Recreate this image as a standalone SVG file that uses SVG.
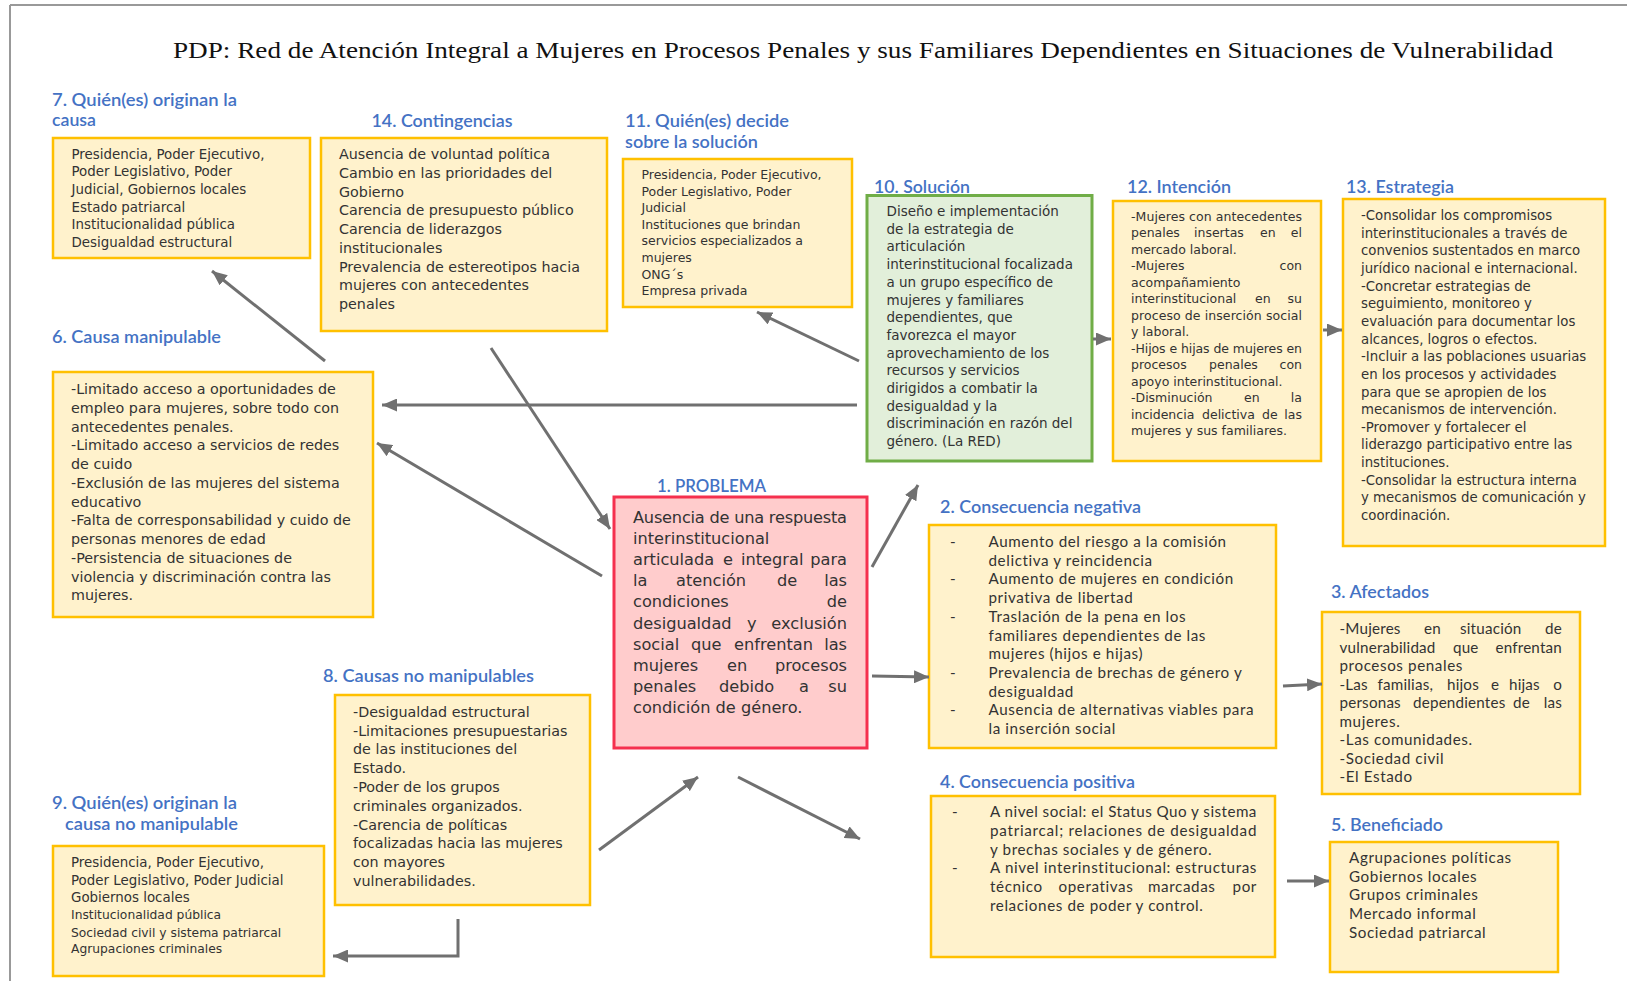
<svg xmlns="http://www.w3.org/2000/svg" width="1627" height="981" viewBox="0 0 1627 981">
<defs>
<marker id="ah" markerUnits="userSpaceOnUse" markerWidth="16" markerHeight="13" refX="15" refY="6.5" orient="auto">
<path d="M0,0 L15,6.5 L0,13 z" fill="#707070"/>
</marker>
<style>
.box{fill:#FFF2CC;stroke:#FFC000;stroke-width:2.5}
.green{fill:#E2EFDA;stroke:#70AD47;stroke-width:3}
.red{fill:#FFCCCC;stroke:#F5304E;stroke-width:3}
.lbl{font-family:Lato,'Open Sans',sans-serif;font-weight:600;font-size:17px;fill:#4472C4}
.t{font-family:'DejaVu Sans',Verdana,sans-serif;fill:#333333}
.c{font-family:Lato,'Open Sans',sans-serif;fill:#333333;font-size:15.2px;letter-spacing:0.6px}
.j{letter-spacing:0.2px}
.conn line,.conn polyline{stroke:#707070;stroke-width:3;fill:none;marker-end:url(#ah)}
.e{text-anchor:end}
</style>
</defs>
<rect x="0" y="0" width="1627" height="981" fill="#FFFFFF"/>
<g id="frame" stroke="#999999" stroke-width="2" fill="none">
<line x1="10" y1="5" x2="1627" y2="5"/>
<line x1="10" y1="5" x2="10" y2="981"/>
</g>
<text id="title" x="173" y="58" font-family="'Liberation Serif',serif" font-size="23.5" fill="#111111" textLength="1380" lengthAdjust="spacingAndGlyphs">PDP: Red de Atención Integral a Mujeres en Procesos Penales y sus Familiares Dependientes en Situaciones de Vulnerabilidad</text>

<g id="n7">
<text class="lbl" x="52" y="106" textLength="185" lengthAdjust="spacingAndGlyphs">7. Quién(es) originan la</text>
<text class="lbl" x="52" y="126" textLength="44" lengthAdjust="spacingAndGlyphs">causa</text>
<rect class="box" x="53" y="138" width="257" height="120"/>
<g class="t" font-size="13.4">
<text x="71.5" y="158.5">Presidencia, Poder Ejecutivo,</text>
<text x="71.5" y="176.2">Poder Legislativo, Poder</text>
<text x="71.5" y="193.9">Judicial, Gobiernos locales</text>
<text x="71.5" y="211.6">Estado patriarcal</text>
<text x="71.5" y="229.3">Institucionalidad pública</text>
<text x="71.5" y="247">Desigualdad estructural</text>
</g>
</g>

<g id="n14">
<text class="lbl" x="371.5" y="127" textLength="141" lengthAdjust="spacingAndGlyphs">14. Contingencias</text>
<rect class="box" x="321" y="138" width="286" height="193"/>
<g class="t" font-size="14.3">
<text x="339" y="159">Ausencia de voluntad política</text>
<text x="339" y="177.75">Cambio en las prioridades del</text>
<text x="339" y="196.5">Gobierno</text>
<text x="339" y="215.25">Carencia de presupuesto público</text>
<text x="339" y="234">Carencia de liderazgos</text>
<text x="339" y="252.75">institucionales</text>
<text x="339" y="271.5">Prevalencia de estereotipos hacia</text>
<text x="339" y="290.25">mujeres con antecedentes</text>
<text x="339" y="309">penales</text>
</g>
</g>

<g id="n11">
<text class="lbl" x="625" y="127" textLength="164" lengthAdjust="spacingAndGlyphs">11. Quién(es) decide</text>
<text class="lbl" x="625" y="148" textLength="133" lengthAdjust="spacingAndGlyphs">sobre la solución</text>
<rect class="box" x="623" y="159" width="229" height="148"/>
<g class="t" font-size="12.5">
<text x="641.5" y="179">Presidencia, Poder Ejecutivo,</text>
<text x="641.5" y="195.6">Poder Legislativo, Poder</text>
<text x="641.5" y="212.2">Judicial</text>
<text x="641.5" y="228.8">Instituciones que brindan</text>
<text x="641.5" y="245.4">servicios especializados a</text>
<text x="641.5" y="262">mujeres</text>
<text x="641.5" y="278.6">ONG´s</text>
<text x="641.5" y="295.2">Empresa privada</text>
</g>
</g>

<g id="n10">
<text class="lbl" x="874" y="193" textLength="96" lengthAdjust="spacingAndGlyphs">10. Solución</text>
<rect class="green" x="867" y="195.5" width="225" height="265.5"/>
<g class="t" font-size="13.5">
<text x="886.5" y="216">Diseño e implementación</text>
<text x="886.5" y="233.7">de la estrategia de</text>
<text x="886.5" y="251.4">articulación</text>
<text x="886.5" y="269.1">interinstitucional focalizada</text>
<text x="886.5" y="286.8">a un grupo específico de</text>
<text x="886.5" y="304.5">mujeres y familiares</text>
<text x="886.5" y="322.2">dependientes, que</text>
<text x="886.5" y="339.9">favorezca el mayor</text>
<text x="886.5" y="357.6">aprovechamiento de los</text>
<text x="886.5" y="375.3">recursos y servicios</text>
<text x="886.5" y="393">dirigidos a combatir la</text>
<text x="886.5" y="410.7">desigualdad y la</text>
<text x="886.5" y="428.4">discriminación en razón del</text>
<text x="886.5" y="446.1">género. (La RED)</text>
</g>
</g>

<g id="n12">
<text class="lbl" x="1127" y="193" textLength="104" lengthAdjust="spacingAndGlyphs">12. Intención</text>
<rect class="box" x="1113" y="201" width="208" height="260"/>
<g class="t" font-size="12.5">
<text x="1131" y="220.7" textLength="171" lengthAdjust="spacing">-Mujeres con antecedentes</text>
<text x="1131" y="237.2">penales</text><text x="1194" y="237.2">insertas</text><text x="1260" y="237.2">en</text><text class="e" x="1302" y="237.2">el</text>
<text x="1131" y="253.7">mercado laboral.</text>
<text x="1131" y="270.2">-Mujeres</text><text class="e" x="1302" y="270.2">con</text>
<text x="1131" y="286.7">acompañamiento</text>
<text x="1131" y="303.2">interinstitucional</text><text x="1255" y="303.2">en</text><text class="e" x="1302" y="303.2">su</text>
<text x="1131" y="319.7" textLength="171" lengthAdjust="spacing">proceso de inserción social</text>
<text x="1131" y="336.2">y laboral.</text>
<text x="1131" y="352.7" textLength="171" lengthAdjust="spacing">-Hijos e hijas de mujeres en</text>
<text x="1131" y="369.2">procesos</text><text x="1209" y="369.2">penales</text><text class="e" x="1302" y="369.2">con</text>
<text x="1131" y="385.7">apoyo interinstitucional.</text>
<text x="1131" y="402.2">-Disminución</text><text x="1244" y="402.2">en</text><text class="e" x="1302" y="402.2">la</text>
<text x="1131" y="418.7">incidencia</text><text x="1202" y="418.7">delictiva</text><text x="1262" y="418.7">de</text><text class="e" x="1302" y="418.7">las</text>
<text x="1131" y="435.2">mujeres y sus familiares.</text>
</g>
</g>

<g id="n13">
<text class="lbl" x="1346" y="193" textLength="108" lengthAdjust="spacingAndGlyphs">13. Estrategia</text>
<rect class="box" x="1343" y="199" width="262" height="347"/>
<g class="t" font-size="13.3">
<text x="1361" y="220">-Consolidar los compromisos</text>
<text x="1361" y="237.65">interinstitucionales a través de</text>
<text x="1361" y="255.3">convenios sustentados en marco</text>
<text x="1361" y="272.95">jurídico nacional e internacional.</text>
<text x="1361" y="290.6">-Concretar estrategias de</text>
<text x="1361" y="308.25">seguimiento, monitoreo y</text>
<text x="1361" y="325.9">evaluación para documentar los</text>
<text x="1361" y="343.55">alcances, logros o efectos.</text>
<text x="1361" y="361.2">-Incluir a las poblaciones usuarias</text>
<text x="1361" y="378.85">en los procesos y actividades</text>
<text x="1361" y="396.5">para que se apropien de los</text>
<text x="1361" y="414.15">mecanismos de intervención.</text>
<text x="1361" y="431.8">-Promover y fortalecer el</text>
<text x="1361" y="449.45">liderazgo participativo entre las</text>
<text x="1361" y="467.1">instituciones.</text>
<text x="1361" y="484.75">-Consolidar la estructura interna</text>
<text x="1361" y="502.4">y mecanismos de comunicación y</text>
<text x="1361" y="520.05">coordinación.</text>
</g>
</g>

<g id="n6">
<text class="lbl" x="52" y="343" textLength="169" lengthAdjust="spacingAndGlyphs">6. Causa manipulable</text>
<rect class="box" x="53" y="372" width="320" height="245"/>
<g class="t" font-size="14.3">
<text x="71" y="394">-Limitado acceso a oportunidades de</text>
<text x="71" y="412.75">empleo para mujeres, sobre todo con</text>
<text x="71" y="431.5">antecedentes penales.</text>
<text x="71" y="450.25">-Limitado acceso a servicios de redes</text>
<text x="71" y="469">de cuido</text>
<text x="71" y="487.75">-Exclusión de las mujeres del sistema</text>
<text x="71" y="506.5">educativo</text>
<text x="71" y="525.25">-Falta de corresponsabilidad y cuido de</text>
<text x="71" y="544">personas menores de edad</text>
<text x="71" y="562.75">-Persistencia de situaciones de</text>
<text x="71" y="581.5">violencia y discriminación contra las</text>
<text x="71" y="600.25">mujeres.</text>
</g>
</g>

<g id="n1">
<text class="lbl" x="657" y="492" textLength="109" lengthAdjust="spacingAndGlyphs">1. PROBLEMA</text>
<rect class="red" x="614" y="497" width="253" height="251"/>
<g class="t" font-size="16.2" fill="#333333">
<text x="633" y="523" textLength="214" lengthAdjust="spacing">Ausencia de una respuesta</text>
<text x="633" y="544">interinstitucional</text>
<text x="633" y="565">articulada</text><text x="723" y="565">e</text><text x="741" y="565">integral</text><text class="e" x="847" y="565">para</text>
<text x="633" y="586">la</text><text x="676" y="586">atención</text><text x="777" y="586">de</text><text class="e" x="847" y="586">las</text>
<text x="633" y="607">condiciones</text><text class="e" x="847" y="607">de</text>
<text x="633" y="628.5">desigualdad</text><text x="747" y="628.5">y</text><text class="e" x="847" y="628.5">exclusión</text>
<text x="633" y="649.5">social</text><text x="691" y="649.5">que</text><text x="734" y="649.5">enfrentan</text><text class="e" x="847" y="649.5">las</text>
<text x="633" y="671">mujeres</text><text x="727" y="671">en</text><text class="e" x="847" y="671">procesos</text>
<text x="633" y="692">penales</text><text x="719" y="692">debido</text><text x="799" y="692">a</text><text class="e" x="847" y="692">su</text>
<text x="633" y="713">condición de género.</text>
</g>
</g>

<g id="n2">
<text class="lbl" x="940" y="513" textLength="201" lengthAdjust="spacingAndGlyphs">2. Consecuencia negativa</text>
<rect class="box" x="929" y="525" width="347" height="223"/>
<g class="c">
<text x="950" y="547">-</text><text x="988.5" y="547">Aumento del riesgo a la comisión</text>
<text x="988.5" y="565.7">delictiva y reincidencia</text>
<text x="950" y="584.4">-</text><text x="988.5" y="584.4">Aumento de mujeres en condición</text>
<text x="988.5" y="603.1">privativa de libertad</text>
<text x="950" y="621.8">-</text><text x="988.5" y="621.8">Traslación de la pena en los</text>
<text x="988.5" y="640.5">familiares dependientes de las</text>
<text x="988.5" y="659.2">mujeres (hijos e hijas)</text>
<text x="950" y="677.9">-</text><text x="988.5" y="677.9">Prevalencia de brechas de género y</text>
<text x="988.5" y="696.6">desigualdad</text>
<text x="950" y="715.3">-</text><text x="988.5" y="715.3">Ausencia de alternativas viables para</text>
<text x="988.5" y="734">la inserción social</text>
</g>
</g>

<g id="n3">
<text class="lbl" x="1331" y="598" textLength="98" lengthAdjust="spacingAndGlyphs">3. Afectados</text>
<rect class="box" x="1322" y="612" width="258" height="182"/>
<g class="c">
<g class="j">
<text x="1339.5" y="634">-Mujeres</text><text x="1424" y="634">en</text><text x="1460" y="634">situación</text><text class="e" x="1562" y="634">de</text>
<text x="1339.5" y="652.5">vulnerabilidad</text><text x="1453" y="652.5">que</text><text class="e" x="1562" y="652.5">enfrentan</text>
</g>
<text x="1339.5" y="671">procesos penales</text>
<g class="j">
<text x="1339.5" y="689.5">-Las</text><text x="1377.5" y="689.5">familias,</text><text x="1447" y="689.5">hijos</text><text x="1491" y="689.5">e</text><text x="1509" y="689.5">hijas</text><text class="e" x="1562" y="689.5">o</text>
<text x="1339.5" y="708">personas</text><text x="1413" y="708">dependientes</text><text x="1513" y="708">de</text><text class="e" x="1562" y="708">las</text>
</g>
<text x="1339.5" y="726.5">mujeres.</text>
<text x="1339.5" y="745">-Las comunidades.</text>
<text x="1339.5" y="763.5">-Sociedad civil</text>
<text x="1339.5" y="782">-El Estado</text>
</g>
</g>

<g id="n8">
<text class="lbl" x="323" y="682" textLength="211" lengthAdjust="spacingAndGlyphs">8. Causas no manipulables</text>
<rect class="box" x="335" y="695" width="255" height="210"/>
<g class="t" font-size="14.3">
<text x="353" y="716.7">-Desigualdad estructural</text>
<text x="353" y="735.5">-Limitaciones presupuestarias</text>
<text x="353" y="754.3">de las instituciones del</text>
<text x="353" y="773.1">Estado.</text>
<text x="353" y="791.9">-Poder de los grupos</text>
<text x="353" y="810.7">criminales organizados.</text>
<text x="353" y="829.5">-Carencia de políticas</text>
<text x="353" y="848.3">focalizadas hacia las mujeres</text>
<text x="353" y="867.1">con mayores</text>
<text x="353" y="885.9">vulnerabilidades.</text>
</g>
</g>

<g id="n4">
<text class="lbl" x="940" y="788" textLength="195" lengthAdjust="spacingAndGlyphs">4. Consecuencia positiva</text>
<rect class="box" x="931" y="796" width="344" height="161"/>
<g class="c">
<text x="952" y="817">-</text><text x="990" y="817" textLength="267" lengthAdjust="spacing">A nivel social: el Status Quo y sistema</text>
<text x="990" y="835.8" textLength="267" lengthAdjust="spacing">patriarcal; relaciones de desigualdad</text>
<text x="990" y="854.6">y brechas sociales y de género.</text>
<text x="952" y="873.4">-</text><text x="990" y="873.4" textLength="267" lengthAdjust="spacing">A nivel interinstitucional: estructuras</text>
<text x="990" y="892.2">técnico</text><text x="1058.5" y="892.2">operativas</text><text x="1148" y="892.2">marcadas</text><text class="e" x="1257" y="892.2">por</text>
<text x="990" y="911">relaciones de poder y control.</text>
</g>
</g>

<g id="n9">
<text class="lbl" x="52" y="809" textLength="185" lengthAdjust="spacingAndGlyphs">9. Quién(es) originan la</text>
<text class="lbl" x="65" y="830" textLength="173" lengthAdjust="spacingAndGlyphs">causa no manipulable</text>
<rect class="box" x="53" y="846" width="271" height="130"/>
<g class="t">
<text x="71" y="867" font-size="13.4">Presidencia, Poder Ejecutivo,</text>
<text x="71" y="885" font-size="13.4">Poder Legislativo, Poder Judicial</text>
<text x="71" y="902" font-size="13.4">Gobiernos locales</text>
<text x="71" y="919" font-size="12.3">Institucionalidad pública</text>
<text x="71" y="936.5" font-size="12.3">Sociedad civil y sistema patriarcal</text>
<text x="71" y="953" font-size="12.3">Agrupaciones criminales</text>
</g>
</g>

<g id="n5">
<text class="lbl" x="1331" y="831" textLength="112" lengthAdjust="spacingAndGlyphs">5. Beneficiado</text>
<rect class="box" x="1330" y="842" width="228" height="130"/>
<g class="c">
<text x="1349" y="863">Agrupaciones políticas</text>
<text x="1349" y="881.7">Gobiernos locales</text>
<text x="1349" y="900.4">Grupos criminales</text>
<text x="1349" y="919.1">Mercado informal</text>
<text x="1349" y="937.8">Sociedad patriarcal</text>
</g>
</g>

<g id="connectors" class="conn">
<line x1="325" y1="361" x2="212" y2="271"/>
<line x1="491" y1="348" x2="610" y2="529"/>
<line x1="857" y1="405" x2="382" y2="405"/>
<line x1="602" y1="576" x2="377" y2="443"/>
<line x1="859" y1="361" x2="757" y2="312"/>
<line x1="872" y1="567" x2="918" y2="485"/>
<line x1="1093" y1="339" x2="1111" y2="339"/>
<line x1="1323" y1="330" x2="1342" y2="330"/>
<line x1="872" y1="676" x2="929" y2="677"/>
<line x1="1283" y1="686" x2="1322" y2="684"/>
<line x1="738" y1="777" x2="860" y2="839"/>
<line x1="599" y1="850" x2="698" y2="777"/>
<line x1="1287" y1="881" x2="1329" y2="881"/>
<polyline points="458,919 458,956 333,956"/>
</g>
</svg>
